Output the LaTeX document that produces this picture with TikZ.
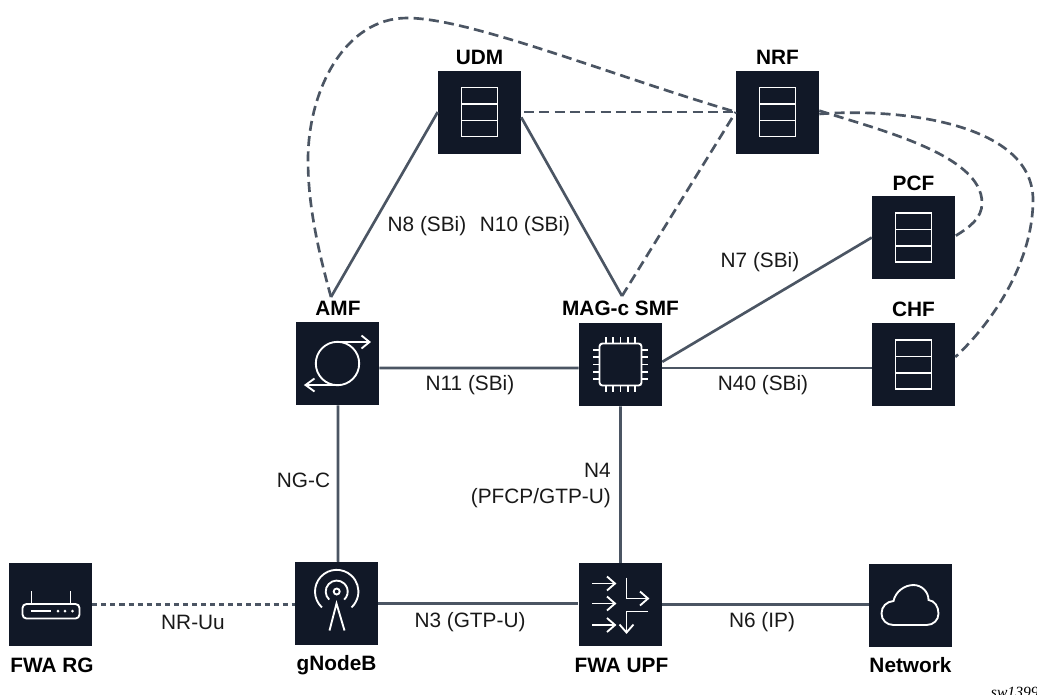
\documentclass[tikz,border=0pt]{standalone}
\usepackage{fontspec}
\setmainfont{Liberation Sans}
\newfontfamily\swfont{Liberation Serif}
\definecolor{boxdark}{RGB}{17,24,39}
\definecolor{linkgrey}{RGB}{75,85,99}
\tikzset{
  every pic/.style={yscale=-1},
  nfbox/.style={fill=boxdark,draw=none,minimum size=62.25pt,inner sep=0pt},
  nfname/.style={font=\fontsize{15.6}{18}\selectfont\bfseries,text=black,inner sep=0pt},
  linktext/.style={font=\fontsize{15.6}{19.5}\selectfont,text=black!90,inner sep=0pt,align=right},
  solidlink/.style={draw=linkgrey,line width=2pt},
  dashlink/.style={draw=linkgrey,line width=2pt,dash pattern=on 7.5pt off 4pt},
  shortlink/.style={draw=linkgrey,line width=2pt,dash pattern=on 3.8pt off 3pt},
  iconline/.style={draw=white,line width=1.4pt,fill=none},
  stackicon/.pic={
    \draw [iconline] (-18,-24.5) rectangle (18,24.5);
    \draw [iconline] (-18,-8) -- (18,-8);
    \draw [iconline] (-18,8.5) -- (18,8.5);
  },
  cycleicon/.pic={
    \draw [iconline] (0,0) circle (21.7);
    \draw [iconline] (0,-21.5) -- (32,-21.5);
    \draw [iconline] (24,-28) -- (32,-21.5) -- (24,-15);
    \draw [iconline] (0,21.5) -- (-32,21.5);
    \draw [iconline] (-23,15) -- (-32,21.5) -- (-23,28);
  },
  chipicon/.pic={
    \draw [iconline,rounded corners=2.2pt] (-21,-21) rectangle (21,21);
    \foreach \p in {-14.5,-7.25,0,7.25,14.5} {
      \draw [iconline] (\p,-21) -- (\p,-27.5);
      \draw [iconline] (\p,21) -- (\p,27.5);
      \draw [iconline] (-21,\p) -- (-27.5,\p);
      \draw [iconline] (21,\p) -- (27.5,\p);
    }
  },
  mastericon/.pic={
    \draw [iconline] (0.2,-12) circle (3);
    \draw [iconline] (-7.3,-3.9) arc (133:407:11);
    \draw [iconline] (-14.6,3.9) arc (133:407:21.7);
    \draw [iconline] (-7,27) -- (0,0) -- (8,27);
  },
  routericon/.pic={
    \draw [iconline,rounded corners=3pt] (-28,-0.5) rectangle (29,14);
    \draw [iconline] (-19,-0.5) -- (-19,-14);
    \draw [iconline] (20,-0.5) -- (20,-14);
    \draw [iconline] (-20,6.5) -- (0.5,6.5);
    \fill [white] (7.5,6.5) circle (1.5);
    \fill [white] (14.5,6.5) circle (1.5);
    \fill [white] (22,6.5) circle (1.5);
  },
  spliticon/.pic={
    \foreach \r in {-21,-1,20.5} {
      \draw [iconline] (-28,\r) -- (-5,\r);
      \draw [iconline] (-13,\r-7) -- (-5,\r) -- (-13,\r+7);
    }
    \draw [iconline] (6.5,-27) -- (6.5,-6) -- (28,-6);
    \draw [iconline] (20,-13) -- (28,-6) -- (20,1);
    \draw [iconline] (28,7) -- (6.5,7) -- (6.5,28);
    \draw [iconline] (-0.5,20) -- (6.5,28) -- (13.5,20);
  },
  cloudicon/.pic={
    \draw [iconline] (-17,19.5) .. controls (-24,19.5) and (-29,14.5) .. (-29,8) .. controls (-29,1) and (-24,-4) .. (-17,-4.5) .. controls (-15,-14) and (-6,-20.5) .. (3,-20.5) .. controls (11,-20.5) and (18,-14) .. (18,-5.5) .. controls (24,-5) and (28,1) .. (28,8) .. controls (28,14.5) and (23,19.5) .. (16,19.5) -- cycle;
  }
}
\begin{document}
\begin{tikzpicture}[x=0.75pt,y=0.75pt,yscale=-1,xscale=1]
\useasboundingbox (0,0) rectangle (1037,694);

% Boxes
\draw (479.5,112) node [nfbox] (udm) {};
\draw (777.5,112) node [nfbox] (nrf) {};
\draw (913.5,237.5) node [nfbox] (pcf) {};
\draw (913.5,364.5) node [nfbox] (chf) {};
\draw (337.5,363.5) node [nfbox] (amf) {};
\draw (620.5,364.5) node [nfbox] (smf) {};
\draw (336.5,603.5) node [nfbox] (gnb) {};
\draw (50.5,604.5) node [nfbox] (rg) {};
\draw (620,604.5) node [nfbox] (upf) {};
\draw (910.5,605.5) node [nfbox] (net) {};

% Icons
\draw (479.5,112) pic {stackicon};
\draw (777.5,112) pic {stackicon};
\draw (913.5,237.5) pic {stackicon};
\draw (913.5,364.5) pic {stackicon};
\draw (337.5,363.5) pic {cycleicon};
\draw (620.5,364.5) pic {chipicon};
\draw (336.5,603.5) pic {mastericon};
\draw (50.5,604.5) pic {routericon};
\draw (620,604.5) pic {spliticon};
\draw (910.5,605.5) pic {cloudicon};

% Box names
\draw (479.5,57) node [nfname] (udmname) {UDM};
\draw (777.5,57) node [nfname] (nrfname) {NRF};
\draw (913.5,183) node [nfname] (pcfname) {PCF};
\draw (913.5,309) node [nfname] (chfname) {CHF};
\draw (338,308) node [nfname] (amfname) {AMF};
\draw (620.5,308) node [nfname] (smfname) {MAG-c SMF};
\draw (336.5,665) node [nfname] (gnbname) {gNodeB};
\draw (52,665) node [nfname] (rgname) {FWA RG};
\draw (621.5,665) node [nfname] (upfname) {FWA UPF};
\draw (910.5,665) node [nfname] (netname) {Network};

% Free ends above the names
\coordinate (amftop) at (331,297);
\coordinate (smftop) at (622,296);

%Straight Lines
\draw [solidlink] (udm.west) -- (amftop);
\draw [solidlink] ([yshift=4pt]udm.east) -- (smftop);
\draw [solidlink] ([yshift=3.4pt]amf.east) -- ([yshift=2.6pt]smf.west);
\draw [solidlink] ([yshift=2.6pt]smf.east) -- ([yshift=2.6pt]chf.west);
\draw [solidlink] ([yshift=-2pt]smf.east) -- (pcf.west);
\draw [solidlink] ([xshift=0.4pt]amf.south) -- ([xshift=1.1pt]gnb.north);
\draw [solidlink] (smf.south) -- ([xshift=0.4pt]upf.north);
\draw [solidlink] (gnb.east) -- (upf.west |- gnb.east);
\draw [solidlink] (upf.east) -- (net.west |- upf.east);
\draw [shortlink] (rg.east) -- (gnb.west |- rg.east);
\draw [dashlink] ([xshift=2pt]udm.east) -- (nrf.west);
\draw [dashlink] (smftop) -- (nrf.west);

%Curve Lines
\draw [dashlink] (amftop) .. controls (318,250) and (308,205) .. (308,160) .. controls (308,90) and (345,18) .. (407,18) .. controls (470,18) and (610,75) .. (nrf.west);
\draw [dashlink] ([yshift=1.5pt]nrf.east) .. controls (890,108) and (1033,120) .. (1033,200) .. controls (1033,260) and (995,320) .. (chf.east |- 0,357);
\draw [dashlink] ([yshift=-1pt]nrf.east) .. controls (880,130) and (982,155) .. (982,203) .. controls (982,218) and (970,227) .. (pcf.east |- 0,236);

% Text Node
\draw (427,226) node [linktext] (n8) {N8 (SBi)};
\draw (525,226) node [linktext] (n10) {N10 (SBi)};
\draw (760,262) node [linktext] (n7) {N7 (SBi)};
\draw (470,385) node [linktext] (n11) {N11 (SBi)};
\draw (763,385) node [linktext] (n40) {N40 (SBi)};
\draw (303.5,480) node [linktext] (ngc) {NG-C};
\draw (611,485) node [linktext,anchor=east] (n4) {N4\\(PFCP/GTP-U)};
\draw (470,622) node [linktext] (n3) {N3 (GTP-U)};
\draw (762,622) node [linktext] (n6) {N6 (IP)};
\draw (193,622) node [linktext] (nruu) {NR-Uu};
\draw (990.7,697.5) node [anchor=base west,inner sep=0pt,font=\swfont\itshape\fontsize{11.7}{12}\selectfont] (swref) {sw1399};

\end{tikzpicture}
\end{document}
